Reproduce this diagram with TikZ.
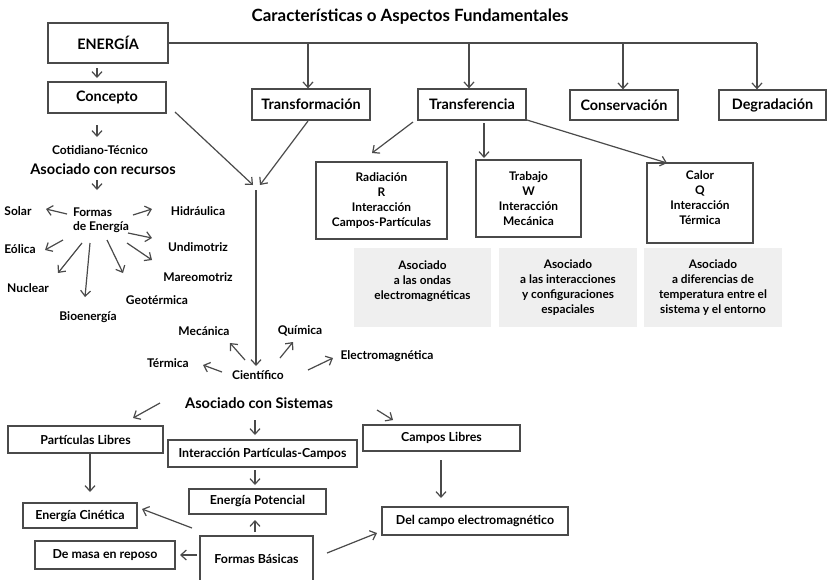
\documentclass[tikz,border=0pt]{standalone}
\usepackage{fontspec}
\setmainfont{Lato}
\usetikzlibrary{arrows.meta,calc}
\definecolor{ln}{HTML}{4A4A4A}
\definecolor{gbox}{HTML}{EFEFEF}
\begin{document}
\begin{tikzpicture}[x=1pt,y=-1pt,
  lbl/.style={font=\bfseries\fontsize{12}{14}\selectfont, inner sep=1pt, align=center},
  big/.style={font=\bfseries\fontsize{14.6}{17}\selectfont, inner sep=1pt},
  bigbox/.style={draw=ln, line width=1.3pt, font=\bfseries\fontsize{14.4}{17}\selectfont, inner sep=0pt},
  midbox/.style={draw=ln, line width=1.3pt, font=\bfseries\fontsize{11.9}{15}\selectfont, align=center, inner sep=0pt},
  lowbox/.style={draw=ln, line width=1.3pt, font=\bfseries\fontsize{12.4}{15}\selectfont, align=center, inner sep=0pt},
  graybox/.style={fill=gbox, font=\bfseries\fontsize{11.8}{15}\selectfont, align=center, inner sep=0pt},
  conn/.style={draw=ln, line width=1.2pt},
  arr/.style={draw=ln, line width=1.2pt, -{Straight Barb[length=5.5pt,width=10pt]}}
]
\fill[white] (0,0) rectangle (827,579);
\useasboundingbox (0,0) rectangle (827,579);

% title
\node[font=\bfseries\fontsize{16.9}{20}\selectfont, inner sep=1pt] (title) at (410,17) {Características o Aspectos Fundamentales};

% top boxes
\node[bigbox, minimum width=120pt, minimum height=40pt] (energia) at (108,43) {ENERGÍA};
\node[bigbox, minimum width=118pt, minimum height=31pt] (concepto) at (107,97.5) {Concepto};
\node[bigbox, minimum width=118pt, minimum height=31pt] (transf) at (311,104.5) {Transformación};
\node[bigbox, minimum width=108pt, minimum height=31pt] (transfer) at (472,104.5) {Transferencia};
\node[bigbox, minimum width=108pt, minimum height=30pt] (conserv) at (624,105) {Conservación};
\node[bigbox, minimum width=107pt, minimum height=30pt] (degrad) at (772.5,105) {Degradación};

% transfer sub boxes
\node[midbox, minimum width=131pt, minimum height=77pt] (radiacion) at (381.5,200.5) {Radiación\\R\\Interacción\\Campos-Partículas};
\node[midbox, minimum width=105pt, minimum height=77pt] (trabajo) at (528.5,198.5) {Trabajo\\W\\Interacción\\Mecánica};
\node[midbox, minimum width=106pt, minimum height=80pt] (calor) at (700,203) {Calor\\Q\\Interacción\\Térmica\\[-5pt]\mbox{}};

\node[graybox, minimum width=137pt, minimum height=79pt] (g1) at (422.5,287.5) {Asociado\\a las ondas\\electromagnéticas\\\mbox{}};
\node[graybox, minimum width=138pt, minimum height=79pt] (g2) at (568,287.5) {Asociado\\a las interacciones\\y configuraciones\\espaciales};
\node[graybox, minimum width=138pt, minimum height=79pt] (g3) at (713,287.5) {Asociado\\a diferencias de\\temperatura entre el\\sistema y el entorno};

% left column
\node[lbl] (cotid) at (100,150) {Cotidiano-Técnico};
\node[big] (asocrec) at (103,169) {Asociado con recursos};
\node[lbl, align=left] (formas) at (101,220) {Formas\\de Energía};
\node[lbl] (solar) at (18,211) {Solar};
\node[lbl] (hidraulica) at (198,211) {Hidráulica};
\node[lbl] (eolica) at (20,249) {Eólica};
\node[lbl] (undimotriz) at (198,247) {Undimotriz};
\node[lbl] (nuclear) at (28,288) {Nuclear};
\node[lbl] (bioenergia) at (88,317) {Bioenergía};
\node[lbl] (geotermica) at (157,300) {Geotérmica};
\node[lbl] (mareomotriz) at (198,277) {Mareomotriz};

% cientifico
\coordinate (m) at (256,188);
\node[lbl] (cientifico) at (258,375) {Científico};
\node[lbl] (mecanica) at (204,331) {Mecánica};
\node[lbl] (quimica) at (300,331) {Química};
\node[lbl] (termica) at (168,363) {Térmica};
\node[lbl] (electromag) at (387,356) {Electromagnética};
\node[big] (asocsis) at (259,403) {Asociado con Sistemas};

% bottom boxes
\node[lowbox, minimum width=155pt, minimum height=27pt] (plibres) at (85.5,439.5) {Partículas Libres};
\node[lowbox, minimum width=189pt, minimum height=27pt] (ipc) at (262.5,453.5) {Interacción Partículas-Campos};
\node[lowbox, minimum width=157pt, minimum height=26pt] (clibres) at (441.5,438) {Campos Libres};
\node[lowbox, minimum width=114pt, minimum height=25pt] (ecin) at (80,515.5) {Energía Cinética};
\node[lowbox, minimum width=137pt, minimum height=25pt] (epot) at (257.5,501.5) {Energía Potencial};
\node[lowbox, minimum width=113pt, minimum height=45pt] (fbas) at (256.5,558.5) {Formas Básicas};
\node[lowbox, minimum width=140pt, minimum height=28pt] (masa) at (105,555) {De masa en reposo};
\node[lowbox, minimum width=186pt, minimum height=28pt] (delcampo) at (475,521) {Del campo electromagnético};

% top connectors
\coordinate (j1) at (308,43);
\coordinate (j2) at (469,43);
\coordinate (j3) at (623,43);
\coordinate (j4) at (757,43);
\draw[conn] (energia.east) -- (j4);
\draw[arr] (j1) -- (j1 |- transf.north);
\draw[arr] (j2) -- (j2 |- transfer.north);
\draw[arr] (j3) -- (j3 |- conserv.north);
\draw[arr] (j4) -- (j4 |- degrad.north);

\draw[arr] ($(energia)+(-11,25)$) -- ($(concepto)+(-10,-19.5)$);
\draw[arr] ($(concepto)+(-10,27.5)$) -- ($(cotid)+(-3,-13)$);
\draw[arr] ($(asocrec)+(-6,11)$) -- ($(formas)+(-4,-30)$);

\draw[arr] ($(formas)+(-34,-6)$) -- ($(solar)+(28,-2)$);
\draw[arr] ($(formas)+(32,-5)$) -- ($(hidraulica)+(-46,-2)$);
\draw[arr] ($(formas)+(-38,20)$) -- ($(eolica)+(25,1)$);
\draw[arr] ($(formas)+(27,13)$) -- ($(undimotriz)+(-46,-9)$);
\draw[arr] ($(formas)+(-19,23)$) -- ($(nuclear)+(30,-15)$);
\draw[arr] ($(formas)+(-11,23)$) -- ($(bioenergia)+(-3,-20)$);
\draw[arr] ($(formas)+(6,20)$) -- ($(geotermica)+(-34,-27)$);
\draw[arr] ($(formas)+(26,23)$) -- ($(mareomotriz)+(-46,-17)$);

\draw[arr] ($(concepto)+(68,14.5)$) -- ($(m)+(-3,-3)$);
\draw[arr] ($(transf)+(-3,16.5)$) -- ($(m)+(4,-3)$);
\draw[arr] ($(m)+(0,2)$) -- ($(cientifico)+(-2,-9)$);

\draw[arr] ($(cientifico)+(-13,-15)$) -- ($(mecanica)+(26,12)$);
\draw[arr] ($(cientifico)+(22,-17)$) -- ($(quimica)+(-7,11)$);
\draw[arr] ($(cientifico)+(-36,-3)$) -- ($(termica)+(35,2)$);
\draw[arr] ($(cientifico)+(50,-5)$) -- ($(electromag)+(-54,2)$);

\draw[arr] ($(asocsis)+(-99,0)$) -- ($(plibres)+(47.5,-21.5)$);
\draw[arr] ($(asocsis)+(-4,17)$) -- ($(ipc)+(-7.5,-18.5)$);
\draw[arr] ($(asocsis)+(118,7)$) -- ($(clibres)+(-48.5,-18)$);

\draw[arr] ($(plibres)+(4.5,13.5)$) -- ($(ecin)+(10,-23.5)$);
\draw[arr] ($(ipc)+(-7.5,16.5)$) -- ($(epot)+(-2.5,-16.5)$);
\draw[arr] ($(clibres)+(-0.5,22)$) -- ($(delcampo)+(-34,-23)$);
\draw[arr] ($(fbas)+(-1.5,-26.5)$) -- ($(epot)+(-2.5,18.5)$);
\draw[arr] ($(fbas)+(-64.5,-30.5)$) -- ($(ecin)+(62,-6.5)$);
\draw[arr] ($(fbas)+(-59.5,-3.5)$) -- ($(masa)+(75,0)$);
\draw[arr] ($(fbas)+(70.5,-5.5)$) -- ($(delcampo)+(-98,12)$);

\draw[arr] ($(transfer)+(-59,17.5)$) -- ($(radiacion)+(-9.5,-47.5)$);
\draw[arr] ($(transfer)+(12,18.5)$) -- ($(trabajo)+(-44.5,-40.5)$);
\draw[arr] ($(transfer)+(55,15.5)$) -- ($(calor)+(-33,-40)$);
\end{tikzpicture}
\end{document}
